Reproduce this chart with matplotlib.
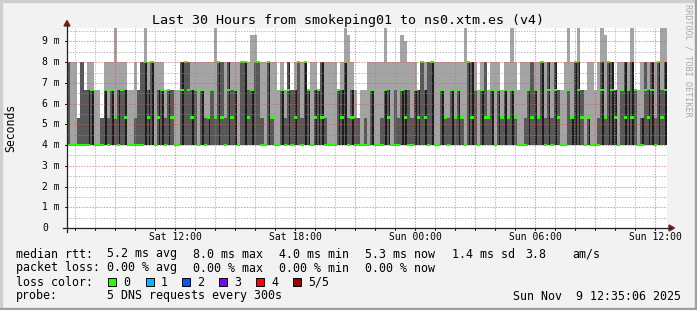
import matplotlib
matplotlib.use('Agg')
import matplotlib.pyplot as plt
from matplotlib.patches import Rectangle, Polygon
from matplotlib.lines import Line2D

# smokeping01 -> ns0.xtm.es, last 30 hours, one column every 10 minutes
# smoke codes: 0 = 4.0 ms, 1 = 5.33 ms, 2 = 6.67 ms, 3 = 8.0 ms, a/b/c = spikes 9.0/9.3/9.7 ms
smoke_top = ("3331323322" "1333c33322" "323c333332" "222233"
             "33333333c3" "333333333b" "b333333232" "323333"
             "2332333332" "3cb3212233" "333c3333ba" "333233"
             "3333333333" "3c33323323" "33233c3233" "333333"
             "333223c33c" "223323cb33" "23333c2233" "3333cc")
# top of the inner (darker) smoke band
smoke_mid = ("3001322200" "1212122200" "1233230221" "220033"
             "3220211213" "3132203322" "3310310021" "322313"
             "2022310002" "2312110102" "0012202122" "212232"
             "3300211212" "1033202312" "0212121001" "232131"
             "3132002133" "2010013133" "2023232013" "231323")
# median rtt: 0 = 4.0 ms, 1 = 5.33, 2 = 6.67, 3 = 8.0
median = ("0000000200" "0202102100" "0003130120" "210023"
          "2120201213" "1021203312" "3300310020" "201303"
          "2012100002" "1301000002" "0002100021" "002131"
          "0300210212" "1031202112" "0212121000" "212130"
          "2021002132" "1010002132" "1021212002" "120312")
# columns where the inner band shows as a thin black stripe
stripe = ("0000001100" "0101010100" "0001110110" "100010"
          "0100101001" "0010100101" "0000100010" "101001"
          "1011100001" "1101000001" "0001100011" "001101"
          "0100100101" "0011001001" "0101010000" "101010"
          "1010000111" "0010001011" "1001110010" "110101")

levels = {'0': 4.0, '1': 5.33, '2': 6.67, '3': 8.0, 'a': 9.0, 'b': 9.3, 'c': 9.7}

x_labels = ['Sat 12:00', 'Sat 18:00', 'Sun 00:00', 'Sun 06:00', 'Sun 12:00']
first_label = 5.415  # hours from graph start (Sat 06:35:06) to Sat 12:00
first_hour = 0.415

loss_labels = ['0', '1', '2', '3', '4', '5/5']
loss_colors = ['#26ff00', '#00b8ff', '#0059ff', '#7e00ff', '#ff0000', '#a10000']

W, H = 697, 310
mono = 'DejaVu Sans Mono'
fig = plt.figure(figsize=(W / 100, H / 100), dpi=100, facecolor='#f2f2f2')


def fx(px):
    return px / W


def fy(py):
    return 1 - py / H


ax = fig.add_axes([fx(67), fy(228), 600 / W, 200 / H])
ax.set_facecolor('white')
ymax = 9.65
ax.set_xlim(0, 30)
ax.set_ylim(0, ymax)
for s in ax.spines.values():
    s.set_visible(False)

n = len(smoke_top)
step = 30 / n
xs = [i * step for i in range(n)]
top = [levels[c] for c in smoke_top]
mid = [levels[c] for c in smoke_mid]
med = [levels[c] for c in median]

ax.bar(xs, [t - 4 for t in top], bottom=4, width=step, align='edge',
       color='#a4a4a4', lw=0, antialiased=False, zorder=1)
ax.bar(xs, [m - 4 for m in mid], bottom=4, width=step, align='edge',
       color='#585858', lw=0, antialiased=False, zorder=2)
sx = [x + step * 0.5 for x, f in zip(xs, stripe) if f == '1']
sh = [m - 4 for m, f in zip(mid, stripe) if f == '1']
ax.bar(sx, sh, bottom=4, width=0.09, align='edge', color='#1c1c1c',
       lw=0, antialiased=False, zorder=3)
ax.bar(xs, 0.1, bottom=[m - 0.05 for m in med], width=step, align='edge',
       color='#26ff00', lw=0, antialiased=False, zorder=4)

# grid on top of the smoke, like rrdtool
grid_c = (0.56, 0.56, 0.56, 0.6)
mgrid_c = (0.87, 0.31, 0.31, 0.6)
dots = (0, (1.4, 1.4))
for k in range(30):
    h = first_hour + k
    major = (k - 2) % 3 == 0
    ax.axvline(h, color=mgrid_c if major else grid_c, lw=0.72, ls=dots, zorder=5)
for k in range(1, 20):
    v = k / 2
    if v > ymax:
        break
    ax.axhline(v, color=mgrid_c if k % 2 == 0 else grid_c, lw=0.72, ls=dots, zorder=5)

ax.set_xticks([])
ax.set_yticks([])

# tick marks and labels
for v in range(10):
    fig.add_artist(Line2D([fx(65), fx(67)], [fy(228 - v * 200 / ymax)] * 2,
                          color='#1f1f1f', lw=0.72))
    lab = '0' if v == 0 else f'{v} m'
    fig.text(fx(42), fy(228 - v * 200 / ymax), lab, fontsize=7, family=mono,
             ha='left', va='center')
for k in range(30):
    px = 67 + (first_hour + k) * 20
    fig.add_artist(Line2D([fx(px), fx(px)], [fy(228), fy(230)],
                          color='#1f1f1f', lw=0.72))
for i, lab in enumerate(x_labels):
    px = 67 + (first_label + 6 * i) * 20
    fig.text(fx(px), fy(240.5), lab, fontsize=7, family=mono,
             ha='center', va='baseline')

# axes and arrows
axis_c = '#1f1f1f'
arrow_c = '#801f1f'
fig.add_artist(Line2D([fx(63), fx(671)], [fy(228), fy(228)], color=axis_c, lw=0.9))
fig.add_artist(Line2D([fx(67), fx(67)], [fy(232), fy(24)], color=axis_c, lw=0.9))
fig.add_artist(Polygon([(fx(64), fy(26)), (fx(70), fy(26)), (fx(67), fy(20.5))],
                       closed=True, color=arrow_c, transform=fig.transFigure))
fig.add_artist(Polygon([(fx(669), fy(225)), (fx(669), fy(231)), (fx(674.5), fy(228))],
                       closed=True, color=arrow_c, transform=fig.transFigure))

# frame shading
fig.add_artist(Rectangle((0, 0), fx(2), 1, color='#cfcfcf', transform=fig.transFigure))
fig.add_artist(Rectangle((0, fy(2)), 1, 2 / H, color='#cfcfcf', transform=fig.transFigure))
fig.add_artist(Rectangle((fx(695), 0), 2 / W, 1, color='#9e9e9e', transform=fig.transFigure))
fig.add_artist(Rectangle((0, 0), 1, 2 / H, color='#9e9e9e', transform=fig.transFigure))

fig.text(0.5, fy(24), 'Last 30 Hours from smokeping01 to ns0.xtm.es (v4)',
         fontsize=9.6, family=mono, ha='center', va='baseline')
fig.text(fx(10.5), fy(127.5), 'Seconds', fontsize=8.3, family=mono,
         rotation=90, ha='center', va='center')
fig.text(fx(688), fy(4), 'RRDTOOL / TOBI OETIKER', fontsize=6.1, family=mono,
         rotation=-90, ha='center', va='top', color='#a8a8a8')

# legend lines
fs = 8.35
rows = [
    (257.5, [(16, 'median rtt:'), (107, '5.2 ms avg'), (193, '8.0 ms max'),
             (279, '4.0 ms min'), (365, '5.3 ms now'), (452, '1.4 ms sd'),
             (525, '3.8'), (572, 'am/s')]),
    (271.5, [(16, 'packet loss:'), (107, '0.00 % avg'), (193, '0.00 % max'),
             (279, '0.00 % min'), (365, '0.00 % now')]),
    (285.5, [(16, 'loss color:')]),
    (299.5, [(16, 'probe:'), (107, '5 DNS requests every 300s')]),
]
for yb, items in rows:
    for px, s in items:
        fig.text(fx(px), fy(yb), s, fontsize=fs, family=mono, ha='left', va='baseline')
fig.text(fx(681), fy(299.5), 'Sun Nov  9 12:35:06 2025', fontsize=fs, family=mono,
         ha='right', va='baseline')

box_x = [108, 146, 182, 219, 256, 293]
for bx, lab, col in zip(box_x, loss_labels, loss_colors):
    fig.add_artist(Rectangle((fx(bx), fy(286)), 8 / W, 8 / H, facecolor=col,
                             edgecolor='black', lw=0.7, transform=fig.transFigure))
    fig.text(fx(bx + 15), fy(285.5), lab, fontsize=fs, family=mono,
             ha='left', va='baseline')

fig.savefig('out.png', dpi=100, facecolor=fig.get_facecolor())
